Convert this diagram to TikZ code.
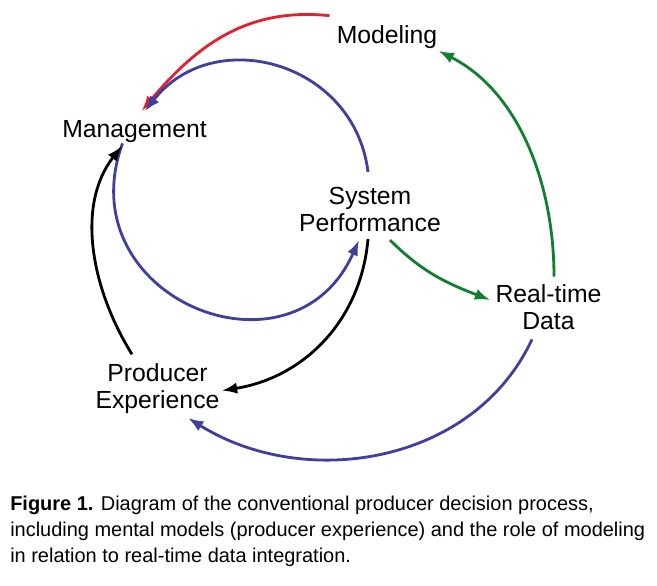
\documentclass[tikz,border=0pt]{standalone}
\usepackage{fontspec}
\setmainfont{Liberation Sans}
\usetikzlibrary{arrows.meta}
\definecolor{loopblue}{RGB}{63,63,160}
\definecolor{loopred}{RGB}{229,32,46}
\definecolor{loopgreen}{RGB}{16,128,48}
\tikzset{
  lbl/.style={inner sep=0pt, align=center, font=\fontsize{17.6}{19.2}\selectfont},
  flow/.style={line width=2pt, -{Latex[length=11pt,width=8pt]}},
}
\begin{document}
\begin{tikzpicture}[x=0.025cm,y=0.025cm]
  \useasboundingbox (0,0) rectangle (657,-585);
  % 绘制节点
  \node[lbl] (mod)  at (387,-37)      {Modeling};
  \node[lbl] (mgmt) at (134.5,-132)   {Management};
  \node[lbl] (sys)  at (370,-209.5)   {System\\Performance};
  \node[lbl] (rtd)  at (548.5,-307.5) {Real-time\\Data};
  \node[lbl] (prod) at (157.5,-388.6) {Producer\\Experience};
  % 红色箭头
  \draw[flow,loopred] ([shift={(-7,9.5)}]mod.north west) to[out=174,in=50,looseness=1.02] ([shift={(7,9.5)}]mgmt.north);
  % 蓝色圆环
  \draw[flow,loopblue] ([shift={(-2,15)}]sys.north) to[out=97,in=52,looseness=1.23] ([shift={(10.5,9.5)}]mgmt.north);
  \draw[flow,loopblue] ([shift={(-12,0)}]mgmt.south) to[out=250,in=246,looseness=1.64] ([shift={(-11,-8)}]sys.south);
  % 黑色箭头
  \draw[flow,black] ([shift={(-2,-7)}]sys.south) to[out=265,in=9] ([shift={(2,-2)}]prod.east);
  \draw[flow,black] ([shift={(-25.5,9)}]prod.north) to[out=122,in=232,looseness=0.93] ([shift={(-12.5,-2.5)}]mgmt.south);
  % 绿色箭头
  \draw[flow,loopgreen] ([shift={(20,-8)}]sys.south) to[out=315,in=159] ([shift={(-5,7.5)}]rtd.west);
  \draw[flow,loopgreen] ([shift={(5.5,8)}]rtd.north) to[out=90,in=333,looseness=0.92] ([shift={(1,-2)}]mod.south east);
  % 下方蓝色箭头
  \draw[flow,loopblue] ([shift={(-16.5,-9)}]rtd.south) to[out=245,in=328] ([shift={(30.5,-4)}]prod.south);
  % 图注
  \node[inner sep=0pt, anchor=north west, align=left, font=\fontsize{14.2}{18.4}\selectfont] (cap) at (10,-496)
    {\textbf{Figure 1.} Diagram of the conventional producer decision process,\\
     including mental models (producer experience) and the role of modeling\\
     in relation to real-time data integration.};
\end{tikzpicture}
\end{document}
